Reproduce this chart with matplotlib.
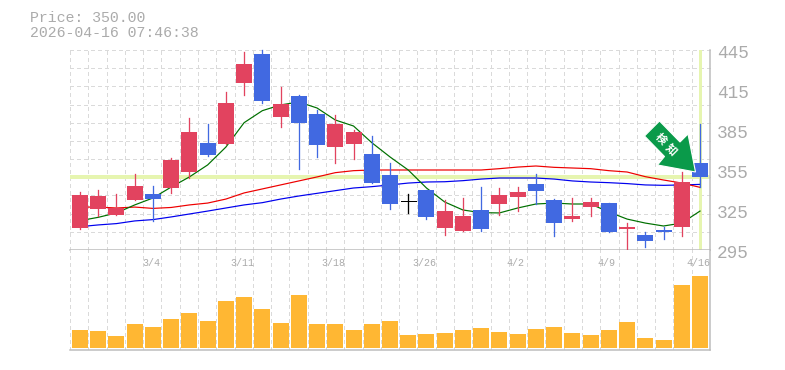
import matplotlib
matplotlib.use("Agg")
import matplotlib.pyplot as plt
from matplotlib.patches import Polygon, Rectangle

# ---------------------------------------------------------------- data
date_pos = [4, 9, 14, 19, 24, 29, 34]
date_labels = ["3/4", "3/11", "3/18", "3/26", "4/2", "4/9", "4/16"]
price_ticks = [295, 325, 355, 385, 415, 445]
last_price = 350.0

opens = [311.7, 325.8, 321.2, 332.5, 337.0, 341.5, 353.5, 375.2, 374.5, 420.2, 442.0, 394.8,
         410.5, 397.0, 372.2, 374.5, 367.0, 351.2, 332.0, 340.0, 311.5, 309.2, 325.0, 329.5,
         334.8, 344.5, 332.5, 318.2, 327.2, 330.2, 310.8, 306.2, 310.0, 312.2, 360.2]
closes = [336.2, 335.5, 326.5, 343.0, 333.2, 362.5, 383.5, 366.2, 405.2, 434.5, 406.8, 404.5,
          390.2, 373.8, 389.5, 383.5, 345.2, 329.5, 332.0, 319.8, 324.2, 320.5, 310.8, 336.2,
          338.5, 339.2, 315.2, 320.5, 331.0, 308.5, 312.2, 301.8, 308.5, 346.0, 350.0]
highs = [338.5, 340.0, 337.0, 352.0, 343.0, 364.0, 394.0, 389.5, 413.5, 443.5, 445.0, 417.2,
         411.2, 400.0, 396.2, 385.0, 380.5, 360.2, 337.0, 340.0, 332.5, 334.0, 342.2, 341.5,
         342.2, 352.0, 333.2, 334.0, 334.0, 330.2, 315.2, 308.5, 312.2, 353.5, 389.5]
lows = [310.8, 320.5, 321.2, 332.5, 317.0, 338.0, 349.0, 365.5, 374.5, 411.2, 405.2, 387.2,
        355.8, 364.8, 360.2, 363.2, 345.2, 325.8, 322.8, 318.2, 306.2, 309.2, 309.2, 321.2,
        324.2, 329.5, 305.5, 316.8, 320.5, 308.5, 294.2, 297.2, 303.2, 305.5, 342.2]

ma_short = [317.0, 319.5, 322.8, 328.8, 334.0, 342.2, 349.8, 358.8, 372.2, 390.5, 399.5, 403.8,
            406.0, 401.5, 392.5, 388.0, 375.5, 364.8, 355.0, 341.5, 331.0, 325.0, 323.0, 322.8,
            326.5, 329.5, 330.2, 329.5, 329.5, 323.5, 318.2, 315.2, 313.0, 315.2, 324.2]
ma_mid = [327.2, 327.2, 326.5, 327.2, 326.2, 326.9, 328.8, 330.2, 333.2, 337.8, 340.8, 343.8,
          346.8, 349.8, 353.0, 354.5, 355.0, 355.0, 355.0, 355.0, 355.0, 355.0, 355.0, 356.0,
          357.2, 358.0, 357.0, 356.5, 356.0, 354.5, 353.5, 350.0, 347.5, 345.2, 342.0]
ma_long = [312.5, 313.8, 314.8, 316.8, 317.8, 319.8, 322.0, 324.2, 326.5, 328.8, 330.5, 333.2,
           335.5, 337.5, 339.5, 341.5, 342.5, 343.8, 345.2, 346.0, 346.2, 347.0, 348.2, 349.0,
           349.0, 349.0, 348.2, 346.8, 346.0, 345.5, 344.8, 343.8, 343.5, 343.8, 344.2]

volumes = [18, 17, 12, 23, 21, 28, 34, 26, 46, 50, 38, 24, 52, 23, 23, 18, 23, 26,
           13, 14, 15, 18, 20, 16, 14, 19, 21, 15, 13, 18, 25, 10, 8, 62, 71]

# ---------------------------------------------------------------- style
W, H = 785, 370
PX = 0.72       # one pixel in points at dpi 100
GREY = "#bcbcbc"
TEXT = "#ababab"
GRID = "#dadada"
UP = "#e2435f"
DOWN = "#4169e1"
HILITE = "#e6f5b0"
ARROW = "#0a9a4a"
DASH = (0, (3, 3))
plt.rcParams["font.family"] = ["Liberation Mono", "DejaVu Sans Mono"]


def px_axes(fig, x0, y0, x1, y1):
    """Axes from pixel box, y measured from the top of the image."""
    return fig.add_axes([x0 / W, 1 - y1 / H, (x1 - x0) / W, (y1 - y0) / H])


fig = plt.figure(figsize=(W / 100, H / 100), dpi=100)
ax = px_axes(fig, 70, 50, 710, 250)
vax = px_axes(fig, 70, 250, 710, 350)

n = len(opens)
x_pad = 0.548   # first candle sits 10 px in from the frame
for a in (ax, vax):
    a.set_xlim(-x_pad, n - 1 + x_pad)
    a.set_xticks([])
    a.set_yticks([])
    for s in a.spines.values():
        s.set_visible(False)
    for i in range(n + 1):
        a.axvline(-x_pad + i * (n - 1 + 2 * x_pad) / n, color=GRID, lw=PX,
                  ls=DASH, zorder=0, antialiased=False)

ax.set_ylim(295, 445)
vax.set_ylim(-2, 96)

# horizontal grid, 11 rows of the price pane
for i in range(12):
    ax.axhline(295 + i * 150 / 11, color=GRID, lw=PX, ls=DASH, zorder=0,
               clip_on=False, antialiased=False)

# last price / last day markers
ax.axhline(last_price, color=HILITE, lw=4 * PX, zorder=1)
ax.axvline(n - 1, color=HILITE, lw=3 * PX, zorder=1)

# moving averages sit under the candles
xs = list(range(n))
ax.plot(xs, ma_long, color="#0000ee", lw=1.2 * PX, zorder=2)
ax.plot(xs, ma_mid, color="#ee0000", lw=1.2 * PX, zorder=2)
ax.plot(xs, ma_short, color="#007000", lw=1.2 * PX, zorder=2)

# candles
for i in range(n):
    o, c = opens[i], closes[i]
    col = UP if c > o else DOWN
    if c == o:
        col = "black"
        ax.plot([i - 0.42, i + 0.42], [o, o], color=col, lw=PX, zorder=3)
    ax.plot([i, i], [lows[i], highs[i]], color=col, lw=1.3 * PX, zorder=3, clip_on=False)
    if c != o:
        ax.add_patch(Rectangle((i - 0.44, min(o, c)), 0.88, abs(c - o),
                               fc=col, ec="none", zorder=4))

# volume bars
vax.bar(xs, volumes, width=0.88, color="#ffb733", zorder=3)

# frame
for a, sp in ((ax, "bottom"), (vax, "bottom"), (vax, "right"), (ax, "right")):
    a.spines[sp].set_visible(True)
    a.spines[sp].set_color(GREY)
    a.spines[sp].set_linewidth(1.5 * PX)

# tick labels
for p in price_ticks:
    ax.annotate(str(p), (1, p), xycoords=("axes fraction", "data"), xytext=(7, -4),
                textcoords="offset pixels", color=TEXT, fontsize=12.8,
                ha="left", va="center")
for i, lab in zip(date_pos, date_labels):
    vax.annotate(lab, (i, 1), xycoords=("data", "axes fraction"), xytext=(-2, -13),
                 textcoords="offset pixels", color=TEXT, fontsize=7.2,
                 ha="center", va="center")

# header
fig.text(30 / W, 1 - 18 / H, f"Price: {last_price:.2f}", color=TEXT, fontsize=10.7,
         ha="left", va="center")
fig.text(30 / W, 1 - 33 / H, "2026-04-16 07:46:38", color=TEXT, fontsize=10.7,
         ha="left", va="center")

# signal arrow, outline in image pixels
arrow_px = [(659.5, 121), (644.5, 136), (664.5, 156.5), (657.5, 165), (695.5, 172),
            (688, 134), (680, 142)]
fig.add_artist(Polygon([(x / W, 1 - y / H) for x, y in arrow_px], closed=True,
                       transform=fig.transFigure, fc=ARROW, ec="white", lw=0.8, zorder=6))
for cx, cy, ch in [(660.5, 139, "検"), (671.5, 150, "知")]:
    fig.text(cx / W, 1 - cy / H, ch, color="white", fontsize=8, rotation=-45,
             rotation_mode="anchor", ha="center", va="center", zorder=7,
             family=["Noto Sans CJK JP", "DejaVu Sans"], weight="bold")

fig.savefig("out.png", dpi=100)
